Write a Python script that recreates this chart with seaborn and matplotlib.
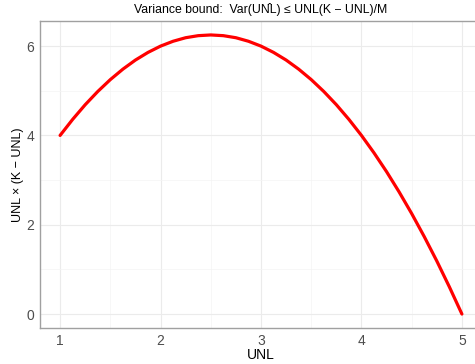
import matplotlib
matplotlib.use("Agg")
import matplotlib.pyplot as plt
import seaborn as sns
import pandas as pd

# Expected-value curve UNL * (K - UNL) for K = 5
unl = [1.0, 1.125, 1.25, 1.375, 1.5, 1.625, 1.75, 1.875, 2.0, 2.125, 2.25,
       2.375, 2.5, 2.625, 2.75, 2.875, 3.0, 3.125, 3.25, 3.375, 3.5, 3.625,
       3.75, 3.875, 4.0, 4.125, 4.25, 4.375, 4.5, 4.625, 4.75, 4.875, 5.0]
bound = [4.0, 4.359, 4.688, 4.984, 5.25, 5.484, 5.688, 5.859, 6.0, 6.109,
         6.188, 6.234, 6.25, 6.234, 6.188, 6.109, 6.0, 5.859, 5.688, 5.484,
         5.25, 4.984, 4.688, 4.359, 4.0, 3.609, 3.188, 2.734, 2.25, 1.734,
         1.188, 0.609, 0.0]
x_ticks = [1, 2, 3, 4, 5]
y_ticks = [0, 2, 4, 6]

df = pd.DataFrame({"UNL": unl, "bound": bound})

sns.set_style("white")
plt.rcParams["font.family"] = ["Liberation Sans", "DejaVu Sans"]

fig = plt.figure(figsize=(4.75, 3.64), dpi=100)
ax = fig.add_axes([40 / 475, 36 / 364, 442 / 475, 307 / 364])

sns.lineplot(data=df, x="UNL", y="bound", color="#ff0000", linewidth=2.3,
             ax=ax, zorder=3)

ax.set_xlim(0.8, 5.2)
ax.set_ylim(-0.3125, 6.5625)
ax.set_xticks(x_ticks)
ax.set_yticks(y_ticks)
ax.set_xticks([1.5, 2.5, 3.5, 4.5], minor=True)
ax.set_yticks([1, 3, 5], minor=True)

ax.grid(True, which="major", color="#ebebeb", linewidth=0.8)
ax.grid(True, which="minor", color="#f4f4f4", linewidth=0.5)
ax.set_axisbelow(True)

for side in ["left", "bottom", "top", "right"]:
    ax.spines[side].set_color("#a0a0a0")
    ax.spines[side].set_linewidth(1.0)

ax.tick_params(axis="both", which="major", length=2.5, width=0.8,
               color="#a0a0a0", labelcolor="#4d4d4d", labelsize=10, pad=1.5)
ax.tick_params(axis="both", which="minor", length=0)

ax.set_xlabel("UNL", fontsize=10, color="black", labelpad=0)
ax.set_ylabel("UNL \u00d7 (K \u2212 UNL)", fontsize=9, color="black",
              labelpad=2)

fig.text(261 / 475, 1 - 10 / 364,
         "Variance bound:  Var(UN\u0302L) \u2264 UNL(K \u2212 UNL)/M",
         ha="center", va="center", fontsize=8.8, color="black")

fig.savefig("out.png", dpi=100)
